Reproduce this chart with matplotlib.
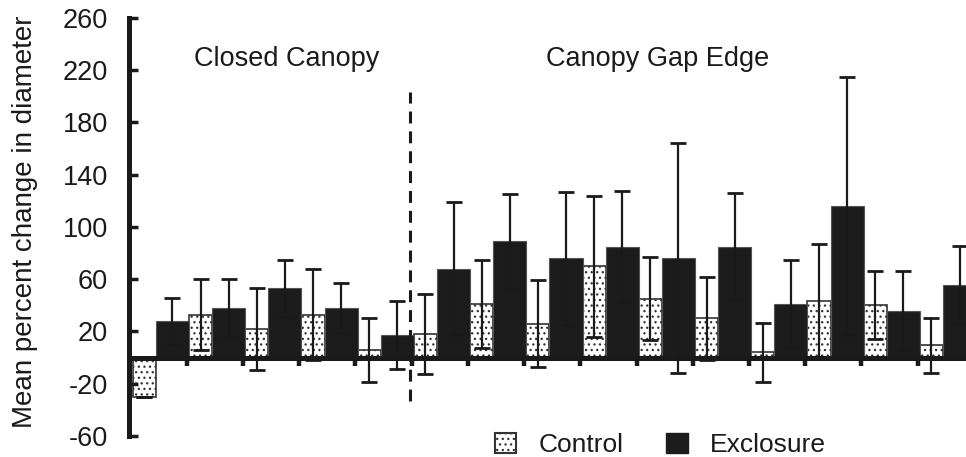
import numpy as np
import matplotlib
matplotlib.use("Agg")
import matplotlib.pyplot as plt
from matplotlib.patches import Patch

plt.rcParams['font.family'] = ['Liberation Sans', 'DejaVu Sans']
plt.rcParams['hatch.linewidth'] = 0.9

# mean percent change and error (one side), 15 site pairs
control = [-30, 33, 22, 33, 6,
           18, 41, 26, 70, 45, 30, 4, 43, 40.5, 9.5]
control_err = [0, 27, 31.5, 34.5, 24.5,
               30.5, 34, 33.5, 54, 31.7, 32, 22.5, 44, 26, 21]
exclosure = [28, 38, 53, 38, 17,
             68, 89, 76, 85, 76, 85, 41, 116, 36, 55.5]
exclosure_err = [17.5, 22, 21.6, 19, 26,
                 51, 36.6, 51, 42.5, 88, 41, 33.6, 99, 30, 30]
y_ticks = [-60, -20, 20, 60, 100, 140, 180, 220, 260]
n_closed = 5

ink = '#1a1a1a'
cw, ew = 0.41, 0.59

fig = plt.figure(figsize=(9.66, 4.57), dpi=100)
ax = fig.add_axes([129 / 966, 0.04595, 837 / 966, 0.9147])

x = np.arange(len(control))
xc = x + cw / 2
xe = x + cw + ew / 2

ax.bar(xc, control, width=cw, color='white', edgecolor='#333333',
       hatch='...', linewidth=1.2, zorder=1)
ax.bar(xe, exclosure, width=ew, color='#1c1c1c', edgecolor='#555555',
       linewidth=0.8, zorder=1)

ax.errorbar(xc, control, yerr=control_err, fmt='none', ecolor=ink,
            elinewidth=1.6, capsize=6, capthick=2, zorder=2)
ax.errorbar(xe, exclosure, yerr=exclosure_err, fmt='none', ecolor=ink,
            elinewidth=1.6, capsize=6, capthick=2, zorder=2)

# divider between the two habitats
ax.plot([n_closed - 0.07, n_closed - 0.07], [-33, 203], color=ink,
        lw=2.2, dashes=(3.9, 2.6), zorder=3)

ax.set_xlim(-0.068, 14.82)
ax.set_ylim(-60, 260)
ax.set_yticks(y_ticks)
ax.set_yticklabels([str(v) for v in y_ticks])
ax.set_xticks(x[1:] - 0.04)
ax.set_xticklabels([])

for s in ['top', 'right']:
    ax.spines[s].set_visible(False)
ax.spines['left'].set_linewidth(3.6)
ax.spines['left'].set_color(ink)
ax.spines['bottom'].set_position(('data', 0))
ax.spines['bottom'].set_linewidth(3.6)
ax.spines['bottom'].set_color(ink)
ax.spines['bottom'].set_zorder(2.5)

ax.tick_params(axis='y', direction='in', length=6.5, width=2.5, color=ink,
               labelsize=19.5, labelcolor=ink, pad=15)
ax.tick_params(axis='x', direction='out', length=5.4, width=3.2, color=ink)

fig.text(25 / 966, 1 - 222 / 457, 'Mean percent change in diameter',
         rotation=90, ha='center', va='center', fontsize=20, color=ink)
fig.text(287 / 966, 1 - 66 / 457, 'Closed Canopy', ha='center',
         va='baseline', fontsize=19.5, color=ink)
fig.text(658 / 966, 1 - 66 / 457, 'Canopy Gap Edge', ha='center',
         va='baseline', fontsize=19.5, color=ink)

handles = [Patch(facecolor='white', edgecolor='#333333', hatch='...', linewidth=1.5),
           Patch(facecolor='#1c1c1c', edgecolor='#1c1c1c')]
fig.legend(handles, ['Control', 'Exclosure'], loc='center',
           bbox_to_anchor=(660 / 966, 1 - 445 / 457), ncol=2, frameon=False,
           fontsize=19, handlelength=0.83, handleheight=0.83,
           handletextpad=0.83, columnspacing=1.6, borderpad=0,
           labelcolor=ink)

fig.savefig('out.png', dpi=100)
